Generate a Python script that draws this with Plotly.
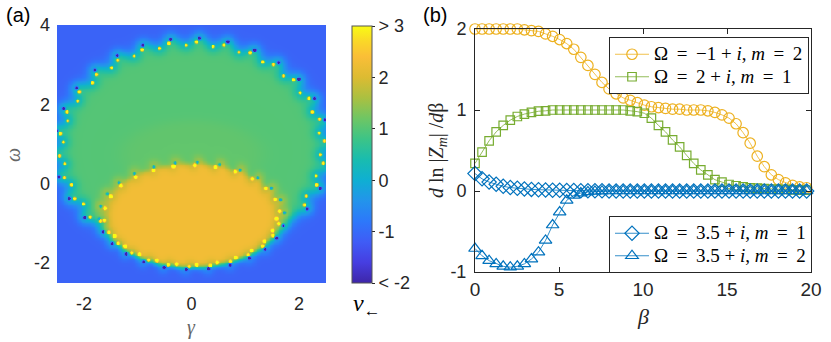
import numpy as np
import plotly.graph_objects as go

# ---------------- Panel (a): winding-number map ----------------
GAMMA_RANGE = [-2.5, 2.5]
OMEGA_RANGE = [-2.5, 4.0]
# colour-matched values of the three plateaus: outside, big disc, lower ellipse
REGION_NU = [-1.1, 1.0, 2.3]
FAINT_NU = 1.1
# ellipses: centre gamma, centre omega, semi-axis gamma, semi-axis omega
OUTER_ELLIPSE = [0.0, 0.9, 2.48, 2.70]
INNER_ELLIPSE = [0.0, -0.8, 1.66, 1.30]
FAINT_ELLIPSE = [0.0, 0.75, 1.3, 0.85]
N_SITES = [30, 26]           # singular points on outer / inner boundary
A_TICKS_X = [-2, 0, 2]
A_TICKS_Y = [-2, 0, 2, 4]
CBAR_TICKS = [-2, -1, 0, 1, 2, 3]
CBAR_LABELS = ['< -2', '-1', '0', '1', '2', '> 3']

# ---------------- Panel (b): d ln|Z_m| / d beta ----------------
BETA = [0.0, 0.42, 0.84, 1.26, 1.68, 2.1, 2.52, 2.94, 3.36, 3.78,
        4.2, 4.62, 5.04, 5.46, 5.88, 6.3, 6.72, 7.14, 7.56, 7.98,
        8.4, 8.82, 9.24, 9.66, 10.08, 10.5, 10.92, 11.34, 11.76, 12.18,
        12.6, 13.02, 13.44, 13.86, 14.28, 14.7, 15.12, 15.54, 15.96, 16.38,
        16.8, 17.22, 17.64, 18.06, 18.48, 18.9, 19.32, 19.74]
Y_M1_M2 = [2.0, 2.0, 2.0, 2.0, 2.0, 2.0, 2.0, 1.99, 1.98, 1.97,
           1.94, 1.91, 1.87, 1.82, 1.75, 1.65, 1.55, 1.44, 1.34, 1.26,
           1.2, 1.15, 1.12, 1.09, 1.06, 1.04, 1.03, 1.02, 1.01, 1.01,
           1.0, 1.0, 1.0, 0.99, 0.97, 0.94, 0.9, 0.83, 0.72, 0.59,
           0.43, 0.3, 0.2, 0.14, 0.1, 0.07, 0.05, 0.04]
Y_2_M1 = [0.34, 0.48, 0.62, 0.73, 0.81, 0.875, 0.92, 0.95, 0.97, 0.985,
          0.99, 1.0, 1.0, 1.0, 1.0, 1.0, 1.0, 1.0, 1.0, 1.0,
          1.0, 1.0, 0.99, 0.98, 0.96, 0.9, 0.81, 0.73, 0.63, 0.545,
          0.44, 0.34, 0.26, 0.2, 0.14, 0.11, 0.08, 0.065, 0.05, 0.04,
          0.035, 0.03, 0.025, 0.02, 0.02, 0.015, 0.01, 0.01]
Y_35_M1 = [0.215, 0.15, 0.11, 0.083, 0.058, 0.042, 0.033, 0.025, 0.02, 0.016,
           0.012, 0.01, 0.008, 0.006, 0.005, 0.004, 0.003, 0.002, 0.002, 0.001,
           0.001, 0.001, 0.0, 0.0, 0.0, 0.0, 0.0, 0.0, 0.0, 0.0,
           0.0, 0.0, 0.0, 0.0, 0.0, 0.0, 0.0, 0.0, 0.0, 0.0,
           0.0, 0.0, 0.0, 0.0, 0.0, 0.0, 0.0, 0.0]
Y_35_M2 = [-0.71, -0.8, -0.86, -0.9, -0.93, -0.94, -0.93, -0.9, -0.84, -0.755,
           -0.61, -0.42, -0.26, -0.115, -0.053, -0.025, -0.012, -0.005, -0.002, 0.0,
           0.0, 0.0, 0.0, 0.0, 0.0, 0.0, 0.0, 0.0, 0.0, 0.0,
           0.0, 0.0, 0.0, 0.0, 0.0, 0.0, 0.0, 0.0, 0.0, 0.0,
           0.0, 0.0, 0.0, 0.0, 0.0, 0.0, 0.0, 0.0]
TS = '\u2009'  # thin space, for TeX-like spacing around relations
SERIES_NAMES = [f'Ω{TS} = {TS}−1 + <i>i</i>, <i>m</i>{TS} = {TS}2',
                f'Ω{TS} = {TS}2 + <i>i</i>, <i>m</i>{TS} = {TS}1',
                f'Ω{TS} = {TS}3.5 + <i>i</i>, <i>m</i>{TS} = {TS}1',
                f'Ω{TS} = {TS}3.5 + <i>i</i>, <i>m</i>{TS} = {TS}2']
B_TICKS_X = [0, 5, 10, 15, 20]
B_TICKS_Y = [-1, 0, 1, 2]
B_TICKS_Y_TEXT = ['-1', '0', '1', '2']

# ---------------- styling ----------------
W, H = 831, 342
AX_A = dict(x0=57, x1=326, y0=25, y1=283)
AX_B = dict(x0=475, x1=811, y0=29, y1=272)
C_ORANGE, C_GREEN, C_BLUE = '#EDB120', '#77AC30', '#0072BD'
DARK = '#262626'
SANS = 'Liberation Sans, Arial, sans-serif'
SERIF = 'Liberation Serif, Times New Roman, serif'
LEGEND_TEXT_PX = 19

PARULA = [
    [0.00, 'rgb(62,38,168)'], [0.08, 'rgb(70,62,225)'], [0.16, 'rgb(63,92,246)'],
    [0.24, 'rgb(45,120,250)'], [0.32, 'rgb(35,148,235)'], [0.40, 'rgb(15,175,210)'],
    [0.48, 'rgb(25,188,175)'], [0.56, 'rgb(60,196,135)'], [0.64, 'rgb(110,198,100)'],
    [0.72, 'rgb(170,192,65)'], [0.80, 'rgb(220,187,50)'], [0.88, 'rgb(250,190,55)'],
    [0.94, 'rgb(250,215,40)'], [1.00, 'rgb(249,251,20)']]

# ---------------- build the map ----------------
gam = np.linspace(GAMMA_RANGE[0], GAMMA_RANGE[1], 330)
omg = np.linspace(OMEGA_RANGE[0], OMEGA_RANGE[1], 330)
G, O = np.meshgrid(gam, omg)
px_g = (AX_A['x1'] - AX_A['x0']) / (GAMMA_RANGE[1] - GAMMA_RANGE[0])
px_o = (AX_A['y1'] - AX_A['y0']) / (OMEGA_RANGE[1] - OMEGA_RANGE[0])


def ell_r(e, g, o):
    return np.sqrt(((g - e[0]) / e[2]) ** 2 + ((o - e[1]) / e[3]) ** 2)


def sig(x):
    return 1.0 / (1.0 + np.exp(-np.clip(x, -60, 60)))


r_out = ell_r(OUTER_ELLIPSE, G, O)
r_in = ell_r(INNER_ELLIPSE, G, O)
r_f = ell_r(FAINT_ELLIPSE, G, O)
s_out = sig((1 - r_out) / 0.028)
s_in = sig((1 - r_in) / 0.03)
s_f = sig((1 - r_f) / 0.08)
plateau = REGION_NU[0] + (REGION_NU[1] - REGION_NU[0]) * s_out
plateau = plateau + (FAINT_NU - REGION_NU[1]) * s_f * s_out
Z = plateau + (REGION_NU[2] - plateau) * s_in


def bump(pg, po, amp, s):
    d2 = ((G - pg) * px_g) ** 2 + ((O - po) * px_o) ** 2
    return amp * np.exp(-d2 / (2 * s * s))


def on_ellipse(e, th, scale):
    return e[0] + scale * e[2] * np.cos(th), e[1] + scale * e[3] * np.sin(th)


# outer boundary singular points
for k in range(N_SITES[0]):
    th = 2 * np.pi * k / N_SITES[0] + 0.05
    bg, bo = on_ellipse(OUTER_ELLIPSE, th, 1.0)
    if ell_r(INNER_ELLIPSE, bg, bo) < 1.08:
        continue
    g1, o1 = on_ellipse(OUTER_ELLIPSE, th, 1.03)
    Z += bump(g1, o1, -4.0, 1.1)
    Z += bump(g1, o1, 0.8, 5.0)
    g2, o2 = on_ellipse(OUTER_ELLIPSE, th + 0.02, 0.995)
    Z += bump(g2, o2, 4.5, 1.0)
    g3, o3 = on_ellipse(OUTER_ELLIPSE, th + 0.1, 0.965)
    Z += bump(g3, o3, 4.5, 1.0)
    Z += bump(g3, o3, -0.45, 5.0)

# inner boundary singular points
for k in range(N_SITES[1]):
    th = 2 * np.pi * k / N_SITES[1] + 0.06
    bg, bo = on_ellipse(INNER_ELLIPSE, th, 1.0)
    outside = ell_r(OUTER_ELLIPSE, bg, bo) > 0.97
    g1, o1 = on_ellipse(INNER_ELLIPSE, th, 1.04)
    Z += bump(g1, o1, -4.0 if outside else -2.0, 1.0)
    Z += bump(g1, o1, 0.6, 4.5)
    g2, o2 = on_ellipse(INNER_ELLIPSE, th + 0.03, 0.985)
    Z += bump(g2, o2, 4.5, 1.0)
    Z += bump(g2, o2, -0.5, 4.5)
    if outside:
        g3, o3 = on_ellipse(INNER_ELLIPSE, th + 0.12, 0.95)
        Z += bump(g3, o3, 4.5, 1.0)

fig = go.Figure()

fig.add_trace(go.Heatmap(
    x=gam, y=omg, z=Z, zmin=CBAR_TICKS[0], zmax=CBAR_TICKS[-1],
    colorscale=PARULA, zsmooth='best', hoverinfo='skip',
    xaxis='x', yaxis='y',
    colorbar=dict(
        x=352 / W, xanchor='left', y=1 - 154.5 / H, yanchor='middle',
        thickness=20, thicknessmode='pixels', len=257, lenmode='pixels',
        xpad=0, ypad=0, outlinewidth=1, outlinecolor='#555555',
        tickvals=CBAR_TICKS, ticktext=CBAR_LABELS, ticks='outside',
        ticklen=3, tickcolor=DARK,
        tickfont=dict(family=SANS, size=18, color=DARK)),
))

markers = [('circle-open', 10.5, C_ORANGE, Y_M1_M2, 'legend'),
           ('square-open', 8.5, C_GREEN, Y_2_M1, 'legend'),
           ('diamond-open', 11, C_BLUE, Y_35_M1, 'legend2'),
           ('triangle-up-open', 11, C_BLUE, Y_35_M2, 'legend2')]
for (sym, sz, col, ys, lg), name in zip(markers, SERIES_NAMES):
    fig.add_trace(go.Scatter(
        x=BETA, y=ys, name=f'<span style="font-size:{LEGEND_TEXT_PX}px">{name}</span>',
        mode='lines+markers',
        line=dict(color=col, width=0.8),
        marker=dict(symbol=sym, size=sz, color=col, line=dict(color=col, width=1.2)),
        xaxis='x2', yaxis='y2', legend=lg, cliponaxis=False))


def dom_x(a):
    return [a['x0'] / W, a['x1'] / W]


def dom_y(a):
    return [1 - a['y1'] / H, 1 - a['y0'] / H]


legend_common = dict(
    xanchor='left', yanchor='top', bgcolor='white', bordercolor=DARK,
    borderwidth=1, font=dict(family=SERIF, size=15, color='black'),
    tracegroupgap=0, itemwidth=34)

fig.update_layout(
    width=W, height=H, margin=dict(l=0, r=0, t=0, b=0, autoexpand=False),
    paper_bgcolor='white', plot_bgcolor='white', showlegend=True,
    xaxis=dict(domain=dom_x(AX_A), range=GAMMA_RANGE, tickvals=A_TICKS_X,
               ticktext=[str(v) for v in A_TICKS_X],
               showgrid=False, zeroline=False, showline=False, ticks='',
               ticklabelstandoff=8,
               tickfont=dict(family=SANS, size=18, color=DARK)),
    yaxis=dict(domain=dom_y(AX_A), range=OMEGA_RANGE, tickvals=A_TICKS_Y,
               ticktext=[str(v) for v in A_TICKS_Y],
               showgrid=False, zeroline=False, showline=False, ticks='',
               ticklabelstandoff=6,
               tickfont=dict(family=SANS, size=18, color=DARK)),
    xaxis2=dict(domain=dom_x(AX_B), range=[0, 20], tickvals=B_TICKS_X,
                showgrid=False, zeroline=False, showline=True, mirror='ticks',
                linecolor=DARK, linewidth=1, ticks='inside', ticklen=5,
                tickcolor=DARK, ticklabelstandoff=0, anchor='y2',
                tickfont=dict(family=SANS, size=19, color=DARK)),
    yaxis2=dict(domain=dom_y(AX_B), range=[-1, 2], tickvals=B_TICKS_Y,
                ticktext=B_TICKS_Y_TEXT,
                showgrid=False, zeroline=False, showline=True, mirror='ticks',
                linecolor=DARK, linewidth=1, ticks='inside', ticklen=5,
                tickcolor=DARK, ticklabelstandoff=4, anchor='x2',
                tickfont=dict(family=SANS, size=18, color=DARK)),
    legend=dict(x=609 / W, y=1 - 37 / H, **legend_common),
    legend2=dict(x=609 / W, y=1 - 216 / H, **legend_common),
)

ann = [
    dict(text='(a)', x=4, y=15, size=20, family=SANS, color='black', angle=0, xa='left'),
    dict(text='(b)', x=421, y=15, size=20, family=SANS, color='black', angle=0, xa='left'),
    dict(text='<i>ω</i>', x=13, y=155, size=20, family=SERIF, color='#666666', angle=-90, xa='center'),
    dict(text='<i>γ</i>', x=191, y=327, size=20, family=SERIF, color='#666666', angle=0, xa='center'),
    dict(text='<i>ν</i><sub>←</sub>', x=366, y=305, size=24, family=SERIF, color='black', angle=0, xa='center'),
    dict(text='<i>d</i> ln |<i>Z<sub>m</sub></i>| /<i>d</i>β', x=437, y=150, size=20,
         family=SERIF, color=DARK, angle=-90, xa='center'),
    dict(text='<i>β</i>', x=643, y=316, size=22, family=SERIF, color=DARK, angle=0, xa='center'),
]
for a in ann:
    fig.add_annotation(text=a['text'], x=a['x'] / W, y=1 - a['y'] / H, xref='paper', yref='paper',
                       xanchor=a['xa'], yanchor='middle', showarrow=False, textangle=a['angle'],
                       font=dict(family=a['family'], size=a['size'], color=a['color']))

fig.write_html('out.html', config={'displayModeBar': False},
               post_script="document.body.style.margin='0px';document.body.style.overflow='hidden';")
